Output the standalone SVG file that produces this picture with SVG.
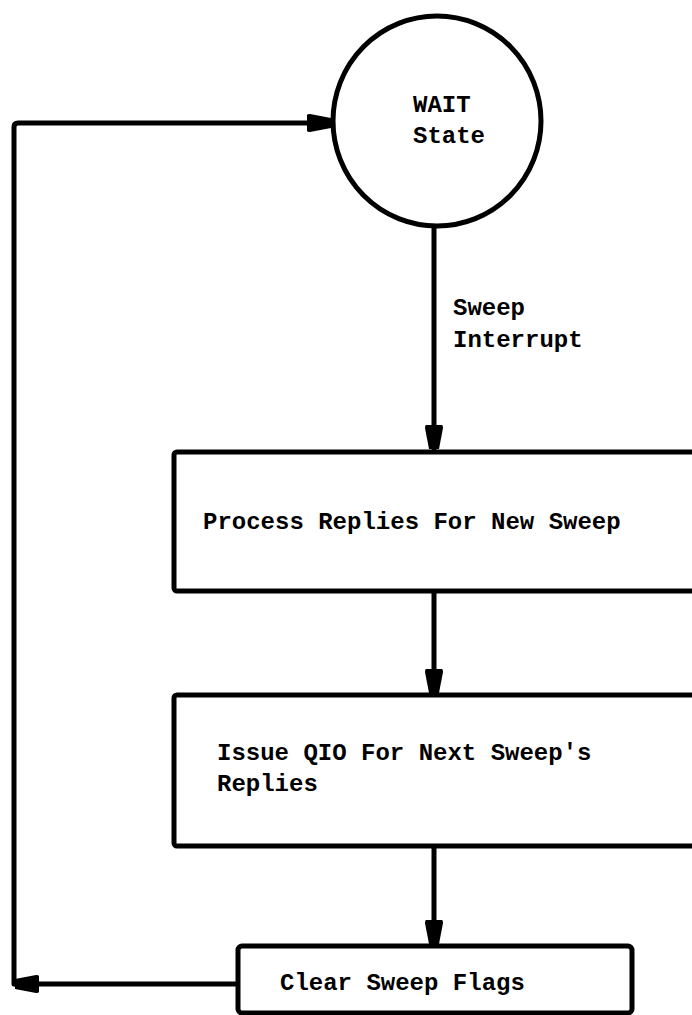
<svg xmlns="http://www.w3.org/2000/svg" width="692" height="1015" viewBox="0 0 692 1015">
<style>
.ln{fill:none;stroke:#000;stroke-width:5;stroke-linejoin:round;stroke-linecap:round}
.bx{fill:#fff;stroke:#000;stroke-width:5}
.t{font-family:"Liberation Mono","DejaVu Sans Mono",monospace;font-weight:bold;font-size:24px;fill:#000}
</style>
<defs>
<marker id="ah" markerUnits="userSpaceOnUse" viewBox="0 -10 26 20" refX="24" refY="0" markerWidth="26" markerHeight="20" orient="auto">
<path d="M0,-8 Q0,-9 3,-9 L24,-5 L24,5 L3,9 Q0,9 0,8 Z" fill="#000"/>
</marker>
</defs>
<rect width="692" height="1015" fill="#fff"/>
<g id="connectors">
<path class="ln" d="M434,226 L434,449" marker-end="url(#ah)"/>
<path class="ln" d="M434,591 L434,693" marker-end="url(#ah)"/>
<path class="ln" d="M434,846 L434,944" marker-end="url(#ah)"/>
<path class="ln" d="M238,984 L15,984" marker-end="url(#ah)"/>
<path class="ln" d="M14,984 L14,127 Q14,123 18,123 L331,123" marker-end="url(#ah)"/>
<text class="t" x="453" y="315">Sweep</text>
<text class="t" x="453" y="347">Interrupt</text>
</g>
<g id="wait">
<ellipse class="bx" cx="437" cy="121" rx="104" ry="105"/>
<text class="t" x="413" y="112">WAIT</text>
<text class="t" x="413" y="143">State</text>
</g>
<g id="process">
<rect class="bx" x="174" y="452" width="540" height="139" rx="3"/>
<text class="t" x="203" y="529">Process Replies For New Sweep</text>
</g>
<g id="issue">
<rect class="bx" x="174" y="695" width="540" height="151" rx="3"/>
<text class="t" x="217" y="760">Issue QIO For Next Sweep's</text>
<text class="t" x="217" y="791">Replies</text>
</g>
<g id="clear">
<rect class="bx" x="238" y="946" width="394" height="67" rx="4"/>
<text class="t" x="280" y="990">Clear Sweep Flags</text>
</g>
</svg>
